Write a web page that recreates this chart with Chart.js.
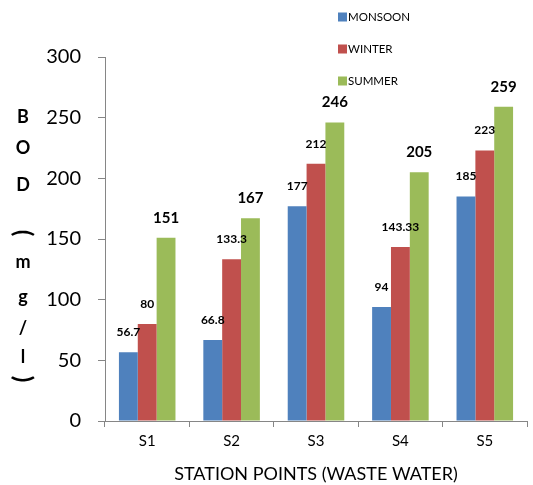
<!DOCTYPE html>
<html>
<head>
<meta charset="utf-8">
<script src="https://cdn.jsdelivr.net/npm/chart.js@4.4.1/dist/chart.umd.min.js"></script>
<style>
  html, body { margin: 0; padding: 0; background: #fff; }
  #wrap { width: 533px; height: 485px; }
</style>
</head>
<body>
<div id="wrap"><canvas id="c" width="533" height="485"></canvas></div>
<script>
const stations = ['S1', 'S2', 'S3', 'S4', 'S5'];
const monsoon = [56.7, 66.8, 177, 94, 185];
const winter = [80, 133.3, 212, 143.33, 223];
const summer = [151, 167, 246, 205, 259];
const yTicks = [0, 50, 100, 150, 200, 250, 300];
const yTitleChars = ['B', 'O', 'D', '', '(', 'm', 'g', '/', 'l', ')'];

const FONT = 'Lato, "Open Sans", sans-serif';

// value labels above each bar; summer labels are set larger
const valueLabels = {
  id: 'valueLabels',
  afterDatasetsDraw(chart) {
    const ctx = chart.ctx;
    ctx.save();
    ctx.fillStyle = '#000';
    ctx.textAlign = 'center';
    ctx.textBaseline = 'middle';
    chart.data.datasets.forEach((ds, i) => {
      const meta = chart.getDatasetMeta(i);
      ctx.font = (i === 2 ? 'bold 15px ' : 'bold 12px ') + FONT;
      meta.data.forEach((bar, j) => {
        ctx.fillText(String(ds.data[j]), bar.x, bar.y - 20);
      });
    });
    ctx.restore();
  }
};

// vertical legend in the upper right corner
const sideLegend = {
  id: 'sideLegend',
  afterDraw(chart) {
    const ctx = chart.ctx;
    ctx.save();
    ctx.font = '11.5px ' + FONT;
    ctx.textBaseline = 'middle';
    ctx.textAlign = 'left';
    chart.data.datasets.forEach((ds, i) => {
      const y = 17 + i * 32;
      ctx.fillStyle = ds.backgroundColor;
      ctx.fillRect(338, y - 4.5, 9, 9);
      ctx.fillStyle = '#000';
      ctx.fillText(ds.label, 348, y);
    });
    ctx.restore();
  }
};

// stacked vertical axis title with turned parentheses
const stackedTitle = {
  id: 'stackedTitle',
  afterDraw(chart) {
    const ctx = chart.ctx;
    ctx.save();
    ctx.fillStyle = '#000';
    ctx.textAlign = 'center';
    ctx.textBaseline = 'middle';
    const ys = [117, 148, 185, 0, 233, 262, 297, 328, 357, 379];
    yTitleChars.forEach((ch, k) => {
      if (!ch) return;
      const x = 23, y = ys[k];
      if (ch === '(' || ch === ')') {
        ctx.font = 'bold 24px ' + FONT;
        ctx.save();
        ctx.translate(x, y);
        ctx.rotate(Math.PI / 2);
        ctx.fillText(ch, 0, 0);
        ctx.restore();
      } else {
        ctx.font = 'bold 18px ' + FONT;
        ctx.fillText(ch, x, y);
      }
    });
    ctx.restore();
  }
};

new Chart(document.getElementById('c'), {
  type: 'bar',
  data: {
    labels: stations,
    datasets: [
      { label: 'MONSOON', data: monsoon, backgroundColor: '#4F81BD' },
      { label: 'WINTER', data: winter, backgroundColor: '#C0504D' },
      { label: 'SUMMER', data: summer, backgroundColor: '#9BBB59' }
    ]
  },
  options: {
    responsive: false,
    animation: false,
    layout: { padding: { top: 57, right: 6, left: 0, bottom: 0 } },
    datasets: { bar: { categoryPercentage: 0.67, barPercentage: 1.0 } },
    plugins: { legend: { display: false }, tooltip: { enabled: false } },
    scales: {
      x: {
        grid: { display: true, drawOnChartArea: false, drawTicks: true, tickLength: 6, color: '#868686' },
        border: { color: '#868686' },
        ticks: { color: '#000', font: { family: FONT, size: 15 }, padding: 5 },
        title: { display: true, text: 'STATION POINTS (WASTE WATER)', color: '#000',
                 font: { family: FONT, size: 18 }, padding: { top: 11, bottom: 0 } },
        afterFit(scale) { scale.height = 64; }
      },
      y: {
        min: 0, max: 300,
        afterBuildTicks(scale) { scale.ticks = yTicks.map(v => ({ value: v })); },
        grid: { display: true, drawOnChartArea: false, drawTicks: true, tickLength: 7, color: '#868686' },
        border: { color: '#868686' },
        ticks: { color: '#000', font: { family: FONT, size: 20 }, padding: 17 },
        afterFit(scale) { scale.width = 105; }
      }
    }
  },
  plugins: [valueLabels, sideLegend, stackedTitle]
});
</script>
</body>
</html>
